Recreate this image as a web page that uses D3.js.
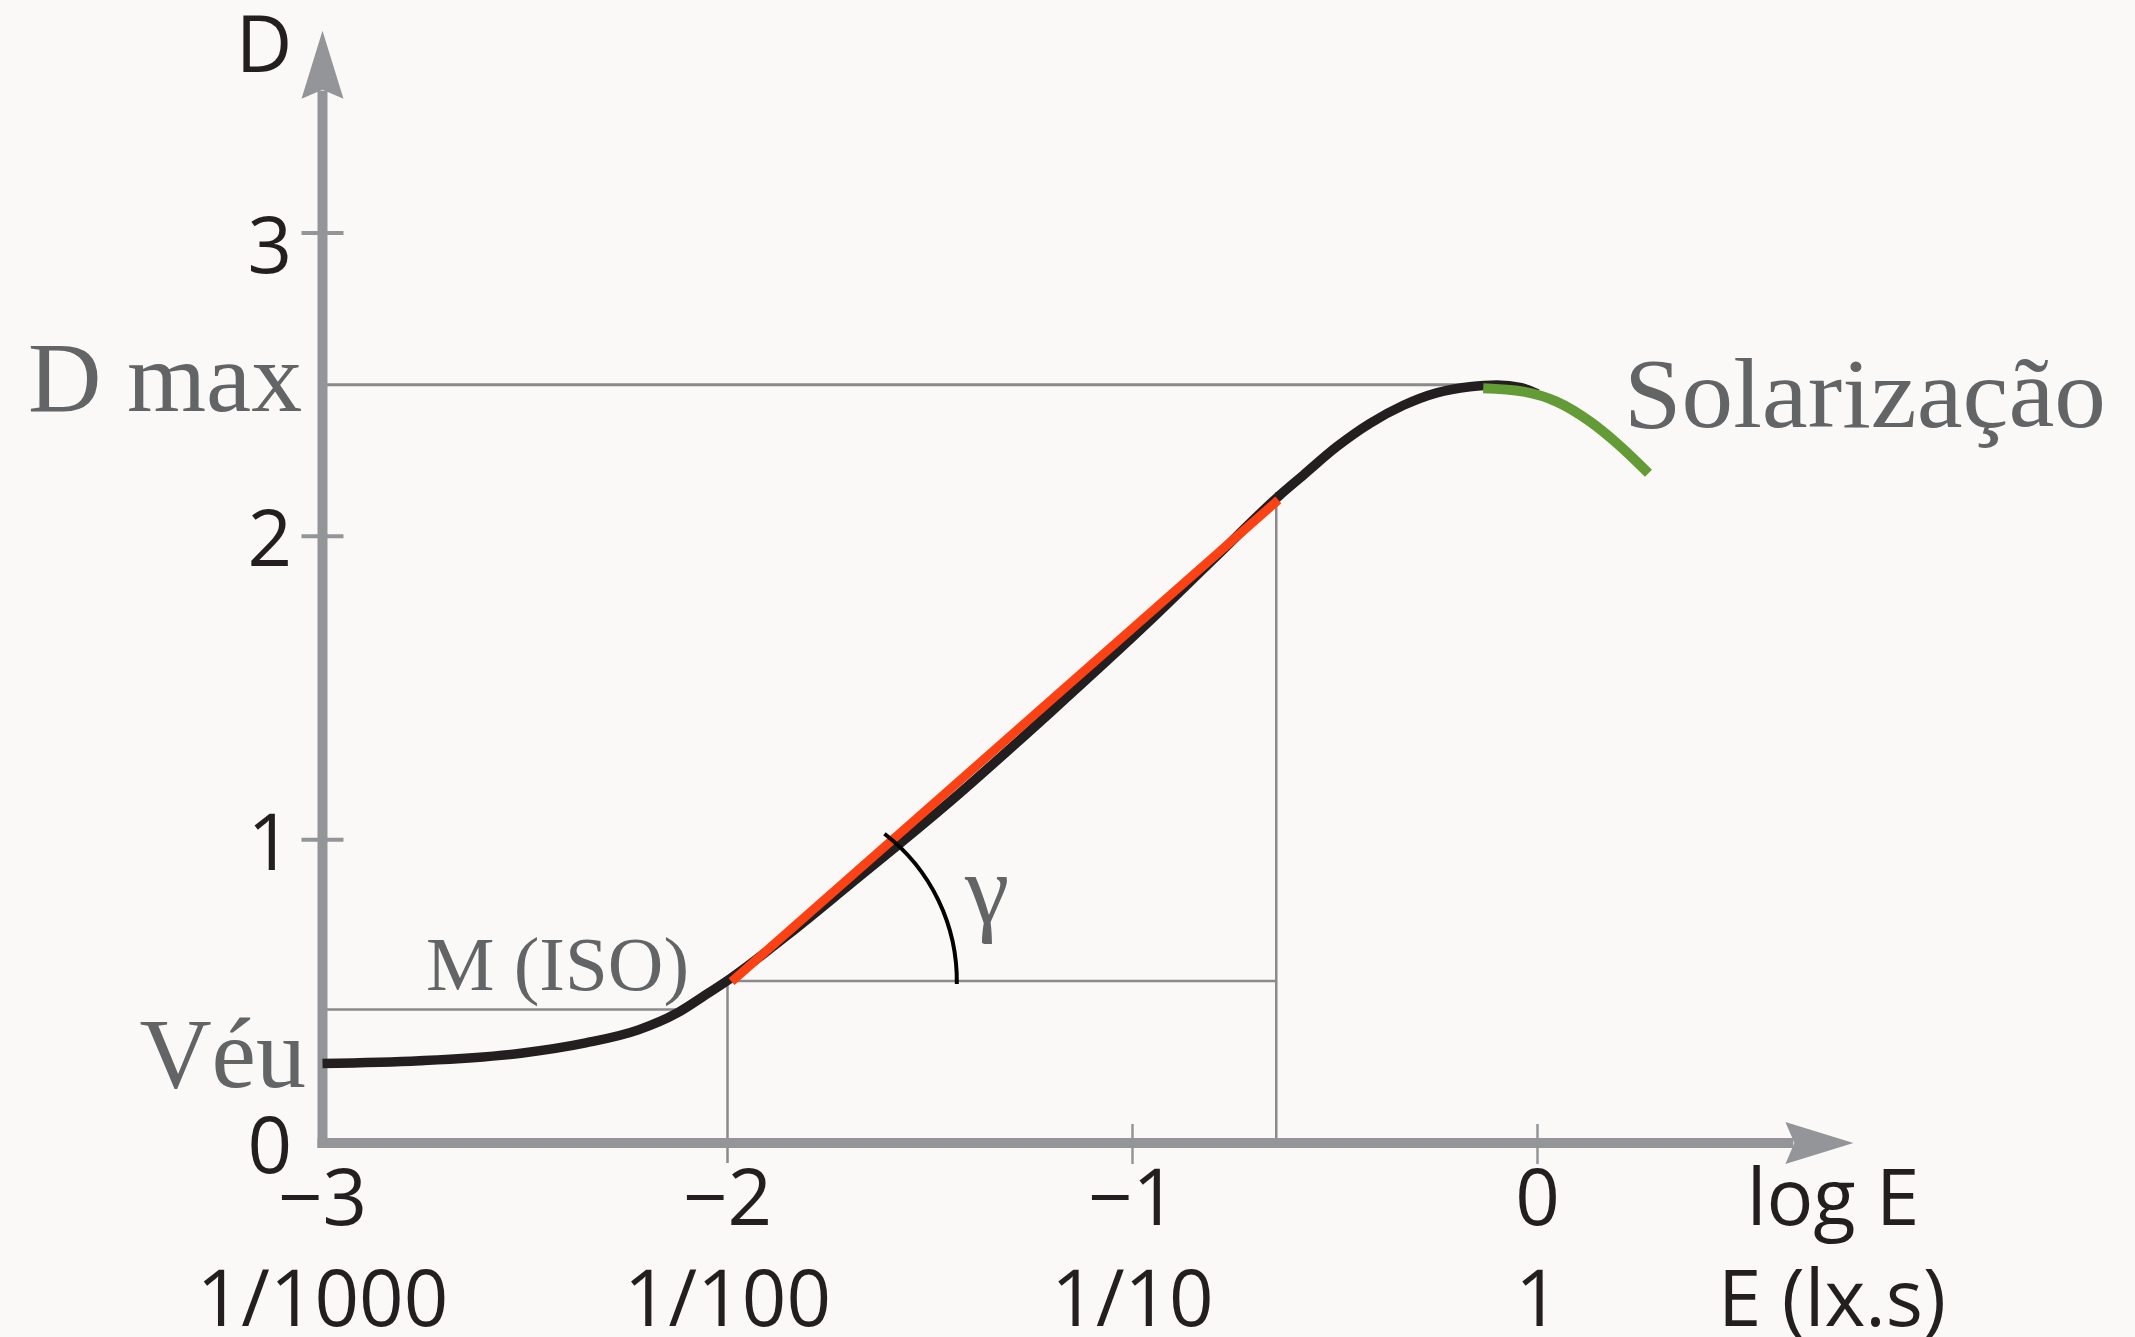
<!DOCTYPE html>
<html>
<head>
<meta charset="utf-8">
<script src="https://cdn.jsdelivr.net/npm/d3@7"></script>
<style>
  body { margin: 0; background: #faf9f7; }
  svg { display: block; }
</style>
</head>
<body>
<svg id="vis" width="2135" height="1337"></svg>
<script>
// characteristic curve (D vs log E) of a photographic film

var logTicks = [-3, -2, -1, 0];
var logLabels = ["\u22123", "\u22122", "\u22121", "0"];
var expLabels = ["1/1000", "1/100", "1/10", "1"];
var dTicks = [0, 1, 2, 3];

// black curve
var curveLogE = [-3.00, -2.76, -2.51, -2.35, -2.22, -2.125, -2.06, -1.994, -1.85, -1.70, -1.45, -1.20,
                 -0.96, -0.80, -0.636, -0.578, -0.496, -0.414, -0.331, -0.249, -0.167, -0.10, -0.04, 0.0];
var curveD = [0.262, 0.271, 0.296, 0.330, 0.373, 0.428, 0.483, 0.541, 0.687, 0.850, 1.126, 1.423,
              1.718, 1.925, 2.136, 2.202, 2.295, 2.372, 2.432, 2.473, 2.493, 2.499, 2.490, 2.470];

// solarisation part (green)
var solarLogE = [-0.134, -0.035, 0.047, 0.130, 0.196, 0.274];
var solarD = [2.488, 2.477, 2.444, 2.378, 2.307, 2.208];

// straight line used for gamma (red)
var tangentLogE = [-1.99, -0.64];
var tangentD = [0.532, 2.12];

var dMax = 2.5;
var dMaxEndLogE = -0.134;
var veilD = 0.44;
var veilEndLogE = -2.115;
var speedLogE = -2;      // M (ISO)
var speedD = 0.534;
var gammaEndLogE = -0.645;
var arcCenterLogE = -1.893;
var axisEndLogE = 0.78;  // arrow tips
var axisEndD = 3.667;

var grey = "#939598";
var ink = "#231f20";
var labelGrey = "#636466";
var lineGrey = "#8a8a8a";
var sans = "'Open Sans', 'DejaVu Sans', sans-serif";
var serif = "'Liberation Serif', 'DejaVu Serif', serif";

var svg = d3.select("#vis");
svg.append("rect").attr("width", 2135).attr("height", 1337).attr("fill", "#faf9f7");

var x = d3.scaleLinear().domain([-3, 0]).range([322.5, 1537.5]);
var y = d3.scaleLinear().domain([0, 3]).range([1143, 233]);

var x0 = x(-3), y0 = y(0);

// thin helper lines
var guides = svg.append("g").attr("stroke", lineGrey).attr("fill", "none");
guides.append("line")
  .attr("x1", x0).attr("x2", x(dMaxEndLogE))
  .attr("y1", y(dMax)).attr("y2", y(dMax))
  .attr("stroke-width", 3);
guides.append("line")
  .attr("x1", x0).attr("x2", x(veilEndLogE))
  .attr("y1", y(veilD)).attr("y2", y(veilD))
  .attr("stroke-width", 2.5);
guides.append("line")
  .attr("x1", x(speedLogE)).attr("x2", x(gammaEndLogE))
  .attr("y1", y(speedD)).attr("y2", y(speedD))
  .attr("stroke-width", 2.5);
guides.append("line")
  .attr("x1", x(speedLogE)).attr("x2", x(speedLogE))
  .attr("y1", y(speedD)).attr("y2", y0 + 20)
  .attr("stroke-width", 2.5);
guides.append("line")
  .attr("x1", x(gammaEndLogE)).attr("x2", x(gammaEndLogE))
  .attr("y1", y(tangentD[1]) - 8).attr("y2", y0)
  .attr("stroke-width", 2.5);

// axes
var axes = svg.append("g");
axes.append("line")
  .attr("x1", x0).attr("x2", x0)
  .attr("y1", y0 + 5).attr("y2", y(axisEndD) + 60)
  .attr("stroke", grey).attr("stroke-width", 10);
axes.append("line")
  .attr("x1", x0 - 5).attr("x2", x(axisEndLogE) - 60)
  .attr("y1", y0).attr("y2", y0)
  .attr("stroke", grey).attr("stroke-width", 10);

var arrowPath = "M0,0 L-68,-21 L-59,0 L-68,21 Z";
axes.append("path")
  .attr("d", arrowPath)
  .attr("fill", grey)
  .attr("transform", "translate(" + x(axisEndLogE) + "," + y0 + ")");
axes.append("path")
  .attr("d", arrowPath)
  .attr("fill", grey)
  .attr("transform", "translate(" + x0 + "," + y(axisEndD) + ") rotate(-90)");

axes.selectAll(".ytick")
  .data(dTicks.filter(function(d) { return d > 0; }))
  .enter().append("line")
  .attr("class", "ytick")
  .attr("x1", x0 - 21).attr("x2", x0 + 21)
  .attr("y1", function(d) { return y(d); })
  .attr("y2", function(d) { return y(d); })
  .attr("stroke", grey).attr("stroke-width", 4);

axes.selectAll(".xtick")
  .data(logTicks.filter(function(d) { return d > -2; }))
  .enter().append("line")
  .attr("class", "xtick")
  .attr("x1", function(d) { return x(d); })
  .attr("x2", function(d) { return x(d); })
  .attr("y1", y0 - 19).attr("y2", y0 + 21)
  .attr("stroke", grey).attr("stroke-width", 2.5);

// tick labels
svg.selectAll(".ylabel")
  .data(dTicks)
  .enter().append("text")
  .attr("class", "ylabel")
  .attr("x", 292)
  .attr("y", function(d) { return y(d) + (d == 3 ? 40 : 30); })
  .attr("text-anchor", "end")
  .style("font-family", sans).style("font-size", "78px").attr("fill", ink)
  .text(function(d) { return d; });

svg.selectAll(".xlabel")
  .data(logTicks)
  .enter().append("text")
  .attr("class", "xlabel")
  .attr("x", function(d) { return x(d); })
  .attr("y", 1225)
  .attr("text-anchor", "middle")
  .style("font-family", sans).style("font-size", "78px").attr("fill", ink)
  .text(function(d, i) { return logLabels[i]; });

svg.selectAll(".elabel")
  .data(logTicks)
  .enter().append("text")
  .attr("class", "elabel")
  .attr("x", function(d) { return x(d); })
  .attr("y", 1326)
  .attr("text-anchor", "middle")
  .style("font-family", sans).style("font-size", "78px").attr("fill", ink)
  .text(function(d, i) { return expLabels[i]; });

svg.append("text")
  .attr("x", 1833).attr("y", 1225)
  .attr("text-anchor", "middle")
  .style("font-family", sans).style("font-size", "78px").attr("fill", ink)
  .text("log E");
svg.append("text")
  .attr("x", 1832).attr("y", 1326)
  .attr("text-anchor", "middle")
  .style("font-family", sans).style("font-size", "78px").attr("fill", ink)
  .text("E (lx.s)");
svg.append("text")
  .attr("x", 264).attr("y", 72)
  .attr("text-anchor", "middle")
  .style("font-family", sans).style("font-size", "78px").attr("fill", ink)
  .text("D");

// curves
var line = d3.line()
  .x(function(d) { return x(d[0]); })
  .y(function(d) { return y(d[1]); })
  .curve(d3.curveMonotoneX);

var curvePts = curveLogE.map(function(v, i) { return [v, curveD[i]]; });
var solarPts = solarLogE.map(function(v, i) { return [v, solarD[i]]; });
var tangentPts = tangentLogE.map(function(v, i) { return [v, tangentD[i]]; });

svg.append("path")
  .attr("d", line(curvePts))
  .attr("fill", "none").attr("stroke", ink).attr("stroke-width", 9.5);
svg.append("path")
  .attr("d", d3.line().x(function(d) { return x(d[0]); }).y(function(d) { return y(d[1]); })(tangentPts))
  .attr("fill", "none").attr("stroke", "#fc4114").attr("stroke-width", 9);
svg.append("path")
  .attr("d", line(solarPts))
  .attr("fill", "none").attr("stroke", "#639b36").attr("stroke-width", 10);

// gamma arc: from the M line up to the red line
var cx = x(arcCenterLogE), cy = y(speedD), r = 186;
var p0 = [x(tangentLogE[0]), y(tangentD[0])], p1 = [x(tangentLogE[1]), y(tangentD[1])];
var dx = p1[0] - p0[0], dy = p1[1] - p0[1];
var fx = p0[0] - cx, fy = p0[1] - cy;
var a = dx * dx + dy * dy, b = 2 * (fx * dx + fy * dy), c = fx * fx + fy * fy - r * r;
var t = (-b + Math.sqrt(b * b - 4 * a * c)) / (2 * a);
var ang = Math.atan2(cy - (p0[1] + t * dy), (p0[0] + t * dx) - cx) + 10 / r;
var arcPath = d3.path();
arcPath.moveTo(cx + Math.sqrt(r * r - 9), cy + 3);
arcPath.arc(cx, cy, r, Math.asin(3 / r), -ang, true);
svg.append("path")
  .attr("d", arcPath.toString())
  .attr("fill", "none").attr("stroke", "#000").attr("stroke-width", 4);

// serif annotations
var notes = svg.append("g").style("font-family", serif).attr("fill", labelGrey);
notes.append("text").attr("x", 302).attr("y", 411).attr("text-anchor", "end")
  .attr("textLength", 274).attr("lengthAdjust", "spacingAndGlyphs")
  .style("font-size", "100px").text("D max");
notes.append("text").attr("x", 306).attr("y", 1087).attr("text-anchor", "end")
  .style("font-size", "100px").text("Véu");
notes.append("text").attr("x", 1624).attr("y", 427)
  .attr("textLength", 482).attr("lengthAdjust", "spacingAndGlyphs")
  .style("font-size", "100px").text("Solarização");
notes.append("text").attr("x", 426).attr("y", 990)
  .style("font-size", "77px").text("M (ISO)");
notes.append("text").attr("x", 987).attr("y", 923).attr("text-anchor", "middle")
  .style("font-size", "100px").text("γ");
</script>
</body>
</html>
